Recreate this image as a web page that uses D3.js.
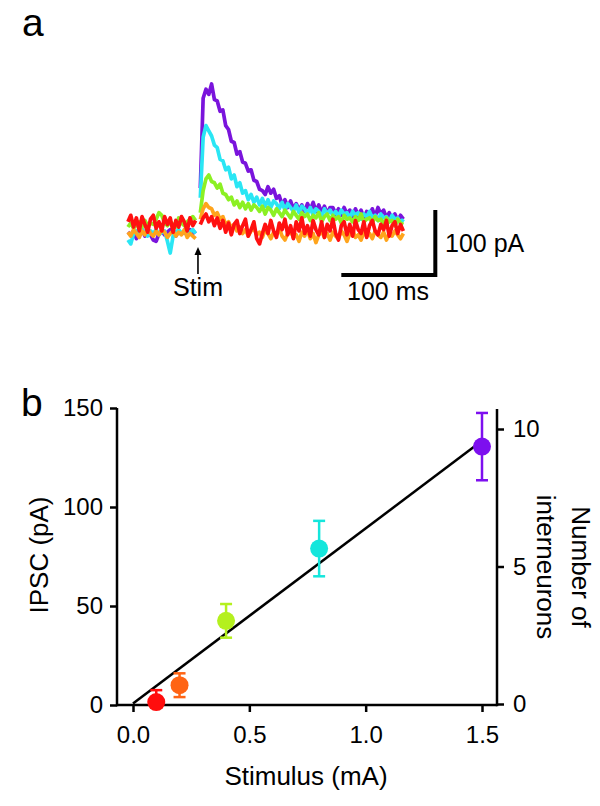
<!DOCTYPE html>
<html><head><meta charset="utf-8">
<script src="https://cdn.jsdelivr.net/npm/d3@7"></script>
<style>
body{margin:0;background:#fff}
text{font-family:"Liberation Sans", Arial, Helvetica, sans-serif;fill:#000}
</style>
</head><body>
<svg id="c" width="600" height="806"></svg>
<script>
// ---------------- Panel a data (current in pA, time in ms) ----------------
const preTimes = d3.range(1, 74, 3);     // 25 samples before stimulus
const postTimes = d3.range(78, 295, 3);  // 73 samples after stimulus
const traceNames = ["1.5 mA", "0.8 mA", "0.4 mA", "0.2 mA", "0.1 mA"];
const traceColors = ["#7a14dc", "#2ae6f4", "#8cf023", "#ffa41c", "#ff1010"];
const purplePre = [-8,-12,-6,-18,-10,-4,-14,-8,-12,-20,-22,-10,-6,-12,-8,-4,-10,-14,-6,-10,-8,-12,-4,-10,-6];
const purplePost = [60,198,212,204,220,196,194,178,180,156,150,132,130,112,116,100,98,86,88,72,70,58,56,50,62,52,58,44,48,34,42,30,40,28,36,26,34,24,36,26,38,24,34,22,32,20,30,30,20,28,18,30,20,26,16,28,18,26,14,24,18,28,16,30,20,26,14,22,12,20,10,18,12];
const cyanPre = [-20,-26,-10,-6,-12,-4,-8,-14,-6,-10,-4,-12,-8,-6,-22,-40,-14,-8,-4,-10,-6,-12,-8,-4,-10];
const cyanPost = [45,138,156,148,140,126,122,104,102,88,92,74,80,62,68,52,56,42,50,38,46,34,44,32,42,30,40,36,28,38,26,36,30,24,34,22,32,28,20,30,18,28,24,16,28,20,26,18,24,16,26,20,22,14,24,18,22,12,20,16,24,14,18,10,20,14,16,8,18,12,14,6,12];
const greenPre = [0,6,-2,4,8,0,10,2,6,4,12,22,18,6,2,8,4,0,14,6,2,8,12,16,10];
const greenPost = [22,56,74,80,70,68,60,66,52,50,42,46,34,40,30,38,28,36,26,34,30,24,32,20,30,26,18,28,22,16,26,20,14,24,18,12,22,16,20,10,18,14,22,8,16,20,10,18,12,16,6,18,12,14,8,16,10,20,8,12,14,6,16,10,12,4,14,8,10,2,12,6,4];
const orangePre = [-8,-14,-4,-10,-16,-6,-12,-2,-10,-14,-6,-12,-4,-8,-16,-10,-6,-14,-8,-12,-4,-16,-10,-14,-18];
const orangePost = [12,28,36,30,28,18,22,12,16,4,8,-2,4,-6,0,-10,-4,-14,-6,-2,-12,-8,-16,-4,-10,-18,-8,-12,-2,-14,-20,-10,-6,-16,-12,-22,-8,-14,-4,-18,-10,-24,-12,-6,-16,-10,-20,-8,-14,-18,-6,-12,-22,-10,-4,-16,-12,-20,-8,-14,-10,-18,-6,-12,-16,-8,-20,-10,-14,-6,-12,-18,-10];
const redPre = [8,18,0,14,-6,16,4,-8,12,18,-2,8,-6,16,4,14,-8,10,0,16,8,-6,14,2,10];
const redPost = [4,14,20,8,16,2,14,-2,10,-8,6,-12,4,10,-10,2,12,-14,-4,8,-18,-26,-10,4,-10,10,-6,-16,6,-4,12,-12,2,-18,8,-6,14,-10,2,-14,10,-4,-12,8,-16,4,-6,12,-10,-20,2,8,-12,4,-14,10,-4,-10,8,-16,2,10,-6,-12,4,-4,10,-14,2,8,-10,4,-6];
const scaleBarMs = 100, scaleBarPA = 100;

// ---------------- Panel b data ----------------
const stimulus = [0.1, 0.2, 0.4, 0.8, 1.5];
const ipscMean = [1.5, 10, 42.5, 79, 130.5];
const ipscSem = [6, 6, 8.5, 14, 17];
const pointColors = ["#ff0d0d", "#ff6414", "#b4f01e", "#14e6dc", "#7d0fef"];
const fitX = [0, 1.5];
const fitY = [0.8, 133.4];
const xTicks = [0, 0.5, 1.0, 1.5];
const yLeftTicks = [0, 50, 100, 150];
const yRightTicks = [0, 5, 10];

const svg = d3.select("#c");

// ================= Panel a =================
const xT = d3.scaleLinear().domain([0, 300]).range([127, 409]);
const yT = d3.scaleLinear().domain([0, 100]).range([227, 162]);
const traces = [
  [purplePre, purplePost], [cyanPre, cyanPost], [greenPre, greenPost],
  [orangePre, orangePost], [redPre, redPost]
];
const lineT = d3.line().x(d => xT(d[0])).y(d => yT(d[1]));
const gA = svg.append("g");
traces.forEach((tr, k) => {
  [[preTimes, tr[0]], [postTimes, tr[1]]].forEach(([ts, vs]) => {
    gA.append("path")
      .datum(ts.map((t, i) => [t, vs[i]]))
      .attr("d", lineT)
      .attr("fill", "none")
      .attr("stroke", traceColors[k])
      .attr("stroke-width", 3.7)
      .attr("stroke-linejoin", "round");
  });
});

// scale bars
const sbT0 = 228, sbP0 = -74;
gA.append("path")
  .attr("d", `M${xT(sbT0)},${yT(sbP0)}H${xT(sbT0 + scaleBarMs)}V${yT(sbP0 + scaleBarPA)}`)
  .attr("fill", "none").attr("stroke", "#000").attr("stroke-width", 4)
  .attr("stroke-linejoin", "miter");
gA.append("text").attr("x", 445).attr("y", 252).attr("font-size", 25).text("100 pA");
gA.append("text").attr("x", 347).attr("y", 300).attr("font-size", 25).text("100 ms");

// Stim arrow
const stimT = 75.5;
const ax = xT(stimT);
gA.append("line").attr("x1", ax).attr("x2", ax).attr("y1", 274).attr("y2", 252)
  .attr("stroke", "#000").attr("stroke-width", 1.6);
gA.append("path").attr("d", `M${ax},247L${ax - 3.5},255L${ax + 3.5},255Z`).attr("fill", "#000");
gA.append("text").attr("x", 173).attr("y", 296).attr("font-size", 25).text("Stim");

svg.append("text").attr("x", 22).attr("y", 35.5).attr("font-size", 39).text("a");
svg.append("text").attr("x", 21).attr("y", 416).attr("font-size", 39).text("b");

// ================= Panel b =================
const xB = d3.scaleLinear().domain([0, 1.5]).range([133, 482]);
const yB = d3.scaleLinear().domain([0, 150]).range([705, 408]);
const yR = d3.scaleLinear().domain([0, 10]).range([704, 429]);
const gB = svg.append("g");

function styleAxis(g) {
  g.selectAll("path,line").attr("stroke", "#000").attr("stroke-width", 2.5);
  g.selectAll("text").attr("font-size", 24).attr("fill", "#000")
    .attr("font-family", '"Liberation Sans", Arial, sans-serif');
}
const gL = gB.append("g").attr("transform", "translate(117,0)")
  .call(d3.axisLeft(yB).tickValues(yLeftTicks).tickSize(7).tickPadding(7).tickSizeOuter(0));
gL.select(".domain").remove();
styleAxis(gL);
gL.append("line").attr("x1", 0).attr("x2", 0).attr("y1", yB(150)).attr("y2", yB(0) + 1.2)
  .attr("stroke", "#000").attr("stroke-width", 2.5);

const gX = gB.append("g").attr("transform", "translate(0,705)")
  .call(d3.axisBottom(xB).tickValues(xTicks).tickFormat(d3.format(".1f")).tickSize(7).tickPadding(14).tickSizeOuter(0));
gX.select(".domain").remove();
styleAxis(gX);
gX.append("line").attr("x1", 117).attr("x2", 497).attr("y1", 0).attr("y2", 0)
  .attr("stroke", "#000").attr("stroke-width", 2.5);

const gR = gB.append("g").attr("transform", "translate(497,0)")
  .call(d3.axisRight(yR).tickValues(yRightTicks).tickSize(7).tickPadding(9).tickSizeOuter(0));
gR.select(".domain").remove();
styleAxis(gR);
gR.append("line").attr("x1", 0).attr("x2", 0).attr("y1", 409).attr("y2", 706.2)
  .attr("stroke", "#000").attr("stroke-width", 2.5);

// fit line
gB.append("line")
  .attr("x1", xB(fitX[0])).attr("y1", yB(fitY[0]))
  .attr("x2", xB(fitX[1])).attr("y2", yB(fitY[1]))
  .attr("stroke", "#000").attr("stroke-width", 2.5);

// error bars + points
stimulus.forEach((s, i) => {
  const cx = xB(s);
  const lo = Math.max(0, ipscMean[i] - ipscSem[i]);
  const hi = ipscMean[i] + ipscSem[i];
  const g = gB.append("g").attr("stroke", pointColors[i]).attr("stroke-width", 2.5);
  g.append("line").attr("x1", cx).attr("x2", cx).attr("y1", yB(lo)).attr("y2", yB(hi));
  g.append("line").attr("x1", cx - 6).attr("x2", cx + 6).attr("y1", yB(hi)).attr("y2", yB(hi));
  if (lo > 0) g.append("line").attr("x1", cx - 6).attr("x2", cx + 6).attr("y1", yB(lo)).attr("y2", yB(lo));
  gB.append("circle").attr("cx", cx).attr("cy", yB(ipscMean[i])).attr("r", 9)
    .attr("fill", pointColors[i]);
});

// axis titles
gB.append("text").attr("transform", "translate(47.5,555) rotate(-90)")
  .attr("text-anchor", "middle").attr("font-size", 26).text("IPSC (pA)");
gB.append("text").attr("x", 306).attr("y", 785)
  .attr("text-anchor", "middle").attr("font-size", 26).text("Stimulus (mA)");
const rt = gB.append("text").attr("transform", "translate(572,567) rotate(90)")
  .attr("text-anchor", "middle").attr("font-size", 26);
rt.append("tspan").attr("x", 0).attr("dy", 0).text("Number of");
rt.append("tspan").attr("x", 0).attr("dy", 35).text("interneurons");
</script>
</body></html>
